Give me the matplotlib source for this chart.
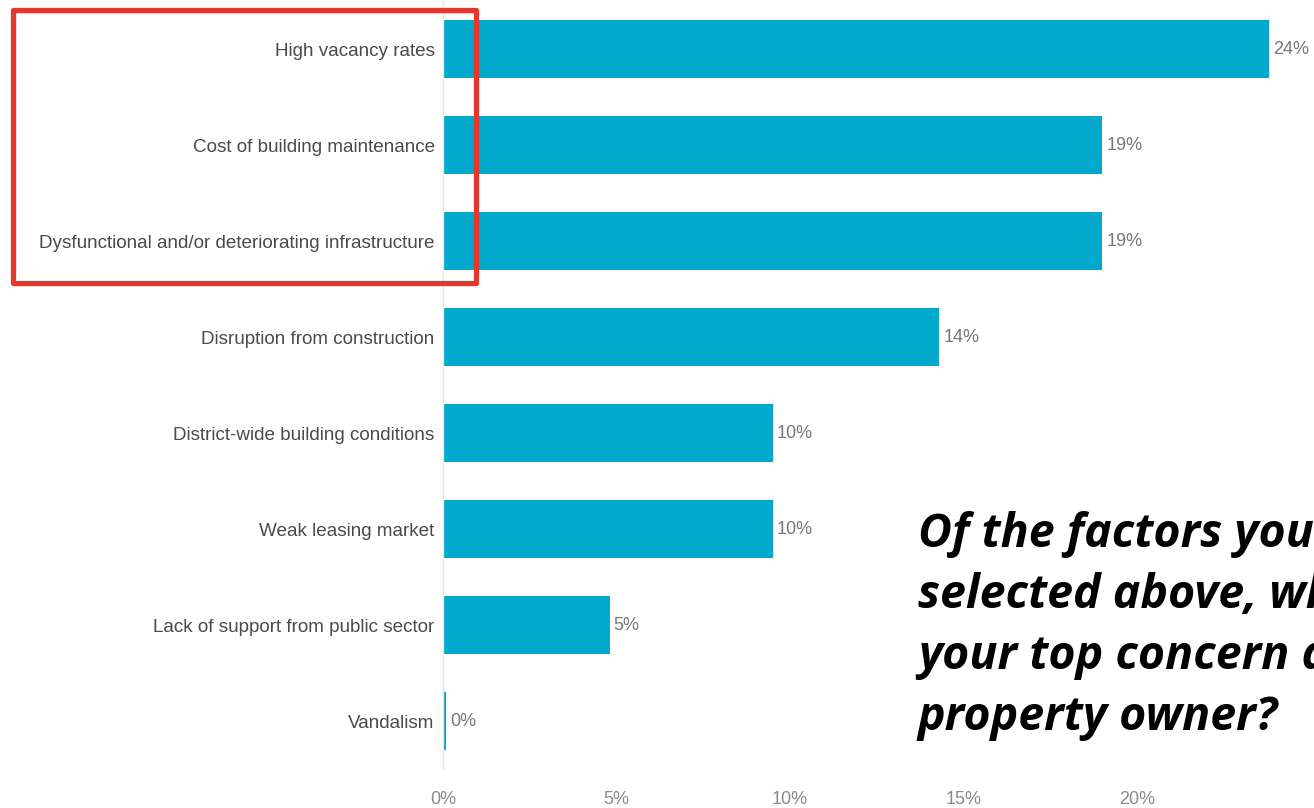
import matplotlib
matplotlib.use("Agg")
import matplotlib.pyplot as plt
from matplotlib.patches import Rectangle

# respuestas de la encuesta (porcentaje de propietarios)
factores = [
    "High vacancy rates",
    "Cost of building maintenance",
    "Dysfunctional and/or deteriorating infrastructure",
    "Disruption from construction",
    "District-wide building conditions",
    "Weak leasing market",
    "Lack of support from public sector",
    "Vandalism",
]
porcentajes = [23.8, 19.0, 19.0, 14.3, 9.5, 9.5, 4.8, 0.1]
ticks_x = [0, 5, 10, 15, 20]
etiquetas_x = ["0%", "5%", "10%", "15%", "20%"]

pregunta = "Of the factors you\nselected above, which is\nyour top concern as a\nproperty owner?"

plt.rcParams["font.family"] = ["Liberation Sans", "DejaVu Sans"]

fig = plt.figure(figsize=(13.14, 8.08), dpi=100)
W, H = 1314, 808

# eje: 0% en x=443 px, 1% = 34.7 px, 96 px por barra
ax = fig.add_axes([443 / W, (808 - 769) / H, 30 * 34.7 / W, 768 / H])

y = list(range(len(factores)))
ax.barh(y, porcentajes, height=0.6, color="#03a9cd", zorder=2)
ax.set_ylim(len(factores) - 0.5, -0.5)
ax.set_xlim(0, 30)

ax.set_yticks(y)
ax.set_yticklabels(factores, fontsize=13.6, color="#4a4a4a")
ax.set_xticks(ticks_x)
ax.set_xticklabels(etiquetas_x, fontsize=13, color="#8a8a8a")
ax.tick_params(axis="y", length=0, pad=6)
ax.tick_params(axis="x", length=0, pad=16)

for lado in ["top", "right", "bottom"]:
    ax.spines[lado].set_visible(False)
ax.spines["left"].set_color("#e6e6e6")
ax.spines["left"].set_linewidth(1)

for i, v in enumerate(porcentajes):
    ax.text(v + 0.12, i, f"{v:.0f}%", va="center", ha="left",
            fontsize=13, color="#777777")

# recuadro rojo sobre los tres primeros factores
marco = Rectangle((12.5 / W, 1 - 283.5 / H), 463 / W, 273 / H,
                  transform=fig.transFigure, fill=False,
                  edgecolor="#e2382d", linewidth=3.8, joinstyle="round",
                  zorder=5)
fig.patches.append(marco)

fig.text(918 / W, 1 - 511 / H, pregunta, ha="left", va="top",
         fontsize=33.5, fontweight="bold", fontstyle="italic",
         family=["Open Sans", "DejaVu Sans"], color="#000000",
         linespacing=1.39)

fig.savefig("out.png", dpi=100)
